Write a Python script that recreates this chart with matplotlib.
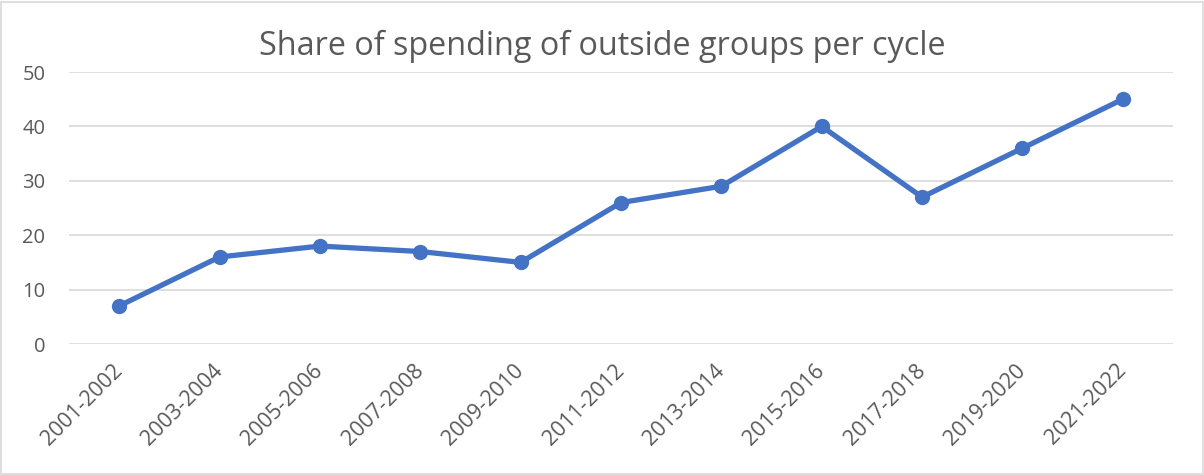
import matplotlib
matplotlib.use("Agg")
import matplotlib.pyplot as plt
from matplotlib.patches import Rectangle

categories = ["2001-2002", "2003-2004", "2005-2006", "2007-2008", "2009-2010",
              "2011-2012", "2013-2014", "2015-2016", "2017-2018", "2019-2020", "2021-2022"]
values = [7, 16, 18, 17, 15, 26, 29, 40, 27, 36, 45]
yticks = [0, 10, 20, 30, 40, 50]
title = "Share of spending of outside groups per cycle"

plt.rcParams['font.family'] = ['Open Sans', 'DejaVu Sans']
text_color = "#595959"
line_color = "#4472C4"
grid_color = "#D9D9D9"

W, H = 1204, 475
fig = plt.figure(figsize=(W / 100, H / 100), dpi=100)
ax = fig.add_axes([69 / W, 1 - 344 / H, (1173 - 69) / W, (344 - 72) / H])

x = list(range(len(categories)))
ax.plot(x, values, color=line_color, linewidth=3.8, marker='o', markersize=10,
        solid_capstyle='round', solid_joinstyle='round', zorder=3)

ax.set_xlim(-0.5, len(categories) - 0.5)
ax.set_ylim(0, 50)
ax.set_yticks(yticks)
ax.set_yticklabels([str(v) for v in yticks])
ax.set_xticks(x)
ax.set_xticklabels(categories, rotation=45, ha='right', va='center', rotation_mode='anchor')

ax.tick_params(axis='y', length=0, pad=17, labelsize=14.5, labelcolor=text_color)
ax.tick_params(axis='x', length=0, pad=17, labelsize=15.5, labelcolor=text_color)
for lbl in ax.get_xticklabels():
    lbl.set_rotation_mode('anchor')

ax.grid(axis='y', color=grid_color, linewidth=1.2)
ax.set_axisbelow(True)
for s in ax.spines.values():
    s.set_visible(False)
for ln in ax.get_lines():
    ln.set_clip_on(False)

fig.text(0.5, 1 - 46 / H, title, ha='center', va='center', fontsize=23.3, color=text_color)

fig.patches.append(Rectangle((1 / W, 1 / H), 1 - 2.5 / W, 1 - 2.5 / H, transform=fig.transFigure,
                             fill=False, edgecolor=grid_color, linewidth=1.2))

fig.savefig("out.png", dpi=100)
